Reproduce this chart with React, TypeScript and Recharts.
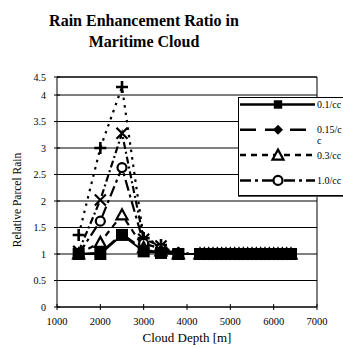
import React from "react";
import {
  LineChart,
  Line,
  XAxis,
  YAxis,
  CartesianGrid,
  ReferenceLine,
  Legend,
} from "recharts";

// cloud depth [m]; the dense tail of points forms the black band at ratio 1
const depths = [
  1500, 2000, 2500, 3000, 3400, 3800, 4300, 4400, 4500, 4600, 4700, 4800, 4900,
  5000, 5100, 5200, 5300, 5400, 5500, 5600, 5700, 5800, 5900, 6000, 6100, 6200,
  6300, 6400,
];

const ratio01 = [
  1.0, 1.0, 1.36, 1.05, 1.02, 1.0, 1, 1, 1, 1, 1, 1, 1, 1, 1, 1, 1, 1, 1, 1, 1, 1,
  1, 1, 1, 1, 1, 1,
];
const ratio015 = [
  1.0, 1.02, 1.38, 1.08, 1.03, 1.0, 1, 1, 1, 1, 1, 1, 1, 1, 1, 1, 1, 1, 1, 1, 1, 1,
  1, 1, 1, 1, 1, 1,
];
const ratio03 = [
  1.0, 1.22, 1.74, 1.12, 1.06, 1.0, 1, 1, 1, 1, 1, 1, 1, 1, 1, 1, 1, 1, 1, 1, 1, 1,
  1, 1, 1, 1, 1, 1,
];
const ratio10 = [
  1.0, 1.62, 2.63, 1.2, 1.1, 1.0, 1, 1, 1, 1, 1, 1, 1, 1, 1, 1, 1, 1, 1, 1, 1, 1,
  1, 1, 1, 1, 1, 1,
];
const ratio30 = [
  1.05, 2.02, 3.28, 1.28, 1.15, 1.0, 1, 1, 1, 1, 1, 1, 1, 1, 1, 1, 1, 1, 1, 1, 1,
  1, 1, 1, 1, 1, 1, 1,
];
const ratio100 = [
  1.36, 3.0, 4.15, 1.3, 1.17, 1.02, 1, 1, 1, 1, 1, 1, 1, 1, 1, 1, 1, 1, 1, 1, 1,
  1, 1, 1, 1, 1, 1, 1,
];

const xTicks = [1000, 2000, 3000, 4000, 5000, 6000, 7000];
// the top of the value axis sits closer to 4 than the regular 0.5 step
const yTicks = [0, 0.5, 1, 1.5, 2, 2.5, 3, 3.5, 4, 4.34];
const yTickLabels = ["0", "0.5", "1", "1.5", "2", "2.5", "3", "3.5", "4", "4.5"];

const data = depths.map((d, i) => ({
  depth: d,
  r01: ratio01[i],
  r015: ratio015[i],
  r03: ratio03[i],
  r10: ratio10[i],
  r30: ratio30[i],
  r100: ratio100[i],
}));

type Shape = "square" | "diamond" | "triangle" | "circle" | "cross" | "plus";

const series: { key: string; name: string; shape: Shape; dash?: string }[] = [
  { key: "r100", name: "10/cc", shape: "plus", dash: "2.5 5" },
  { key: "r30", name: "3.0/cc", shape: "cross", dash: "7 3 2 3" },
  { key: "r10", name: "1.0/cc", shape: "circle", dash: "11 4 3 4" },
  { key: "r03", name: "0.3/cc", shape: "triangle", dash: "6 5" },
  { key: "r015", name: "0.15/cc", shape: "diamond", dash: "16 9" },
  { key: "r01", name: "0.1/cc", shape: "square" },
];

const legendOrder = ["r01", "r015", "r03", "r10"];

const FONT = "Liberation Serif, Times New Roman, serif";

function marker(shape: Shape, cx: number, cy: number, key?: React.Key, s = 1) {
  switch (shape) {
    case "square": {
      const h = 6 * s;
      return <rect key={key} x={cx - h} y={cy - h} width={2 * h} height={2 * h} fill="#000" />;
    }
    case "diamond":
      return (
        <path key={key} d={`M${cx},${cy - 5}L${cx + 5},${cy}L${cx},${cy + 5}L${cx - 5},${cy}Z`} fill="#000" />
      );
    case "triangle":
      return (
        <path
          key={key}
          d={`M${cx},${cy - 5.5}L${cx + 5.5},${cy + 4.5}L${cx - 5.5},${cy + 4.5}Z`}
          fill="#fff"
          stroke="#000"
          strokeWidth={2.2}
        />
      );
    case "circle":
      return <circle key={key} cx={cx} cy={cy} r={4.5} fill="#fff" stroke="#000" strokeWidth={2.2} />;
    case "cross":
      return (
        <path key={key} d={`M${cx - 5.5},${cy - 5.5}L${cx + 5.5},${cy + 5.5}M${cx + 5.5},${cy - 5.5}L${cx - 5.5},${cy + 5.5}`} stroke="#000" strokeWidth={2.2} />
      );
    default:
      return (
        <path key={key} d={`M${cx - 6},${cy}L${cx + 6},${cy}M${cx},${cy - 6}L${cx},${cy + 6}`} stroke="#000" strokeWidth={2.6} />
      );
  }
}

const Y_MARGIN = 11;
const X_MARGIN = 14;

const YTick = (props: any) => {
  const { x, y, payload, index } = props;
  return (
    <g>
      <line x1={x + Y_MARGIN - 3} x2={x + Y_MARGIN + 3} y1={y} y2={y} stroke="#000" />
      <text x={x} y={y} dy={3.5} textAnchor="end" fontSize={10} fontFamily={FONT} fill="#000">
        {yTickLabels[index] ?? payload.value}
      </text>
    </g>
  );
};

const XTick = (props: any) => {
  const { x, y, payload } = props;
  return (
    <g>
      <line x1={x} x2={x} y1={y - X_MARGIN - 3} y2={y - X_MARGIN + 3} stroke="#000" />
      <text x={x} y={y} dy={4} textAnchor="middle" fontSize={10.5} fontFamily={FONT} fill="#000">
        {payload.value}
      </text>
    </g>
  );
};

const ChartLegend = () => {
  const items = legendOrder.map((k) => series.find((s) => s.key === k)!);
  return (
    <svg width={110} height={100} style={{ display: "block", background: "#fff" }}>
      <rect x={0.5} y={0.5} width={120} height={98} fill="#fff" stroke="#000" />
      <line x1={0} x2={120} y1={99.5} y2={99.5} stroke="#555" />
      {items.map((s, i) => {
        const cy = 7.5 + i * 25.3;
        const first = s.name.slice(0, 6);
        const rest = s.name.slice(6);
        return (
          <g key={s.key}>
            <line x1={2} x2={77} y1={cy} y2={cy} stroke="#000" strokeWidth={2.5} strokeDasharray={s.dash} />
            {marker(s.shape, 40, cy, undefined, 0.7)}
            <text x={79} y={cy + 3.5} fontSize={10} fontFamily={FONT} fill="#000">
              {first}
            </text>
            {rest && (
              <text x={79} y={cy + 14} fontSize={10} fontFamily={FONT} fill="#000">
                {rest}
              </text>
            )}
          </g>
        );
      })}
    </svg>
  );
};

export default function App() {
  return (
    <div
      style={{
        position: "absolute",
        left: 0,
        top: 0,
        width: 343,
        height: 347,
        overflow: "hidden",
        background: "#fff",
        fontFamily: FONT,
      }}
    >
      <div
        style={{
          position: "absolute",
          left: 0,
          top: 10,
          width: 288,
          textAlign: "center",
          fontSize: 16,
          fontWeight: "bold",
          lineHeight: "21px",
          color: "#000",
          zIndex: 2,
        }}
      >
        Rain Enhancement Ratio in
        <br />
        Maritime Cloud
      </div>
      <LineChart
        width={343}
        height={347}
        data={data}
        margin={{ top: 77, right: 26, bottom: 0, left: 0 }}
      >
        <CartesianGrid vertical={false} stroke="#000" strokeWidth={1} />
        <XAxis
          type="number"
          dataKey="depth"
          domain={[1000, 7000]}
          ticks={xTicks}
          height={40}
          stroke="#000"
          tickLine={false}
          tickSize={0}
          tickMargin={X_MARGIN}
          tick={<XTick />}
          interval={0}
          label={{
            value: "Cloud Depth [m]",
            position: "insideBottom",
            offset: 5,
            fontSize: 13,
            fill: "#000",
            fontFamily: FONT,
          }}
        />
        <YAxis
          type="number"
          domain={[0, 4.34]}
          ticks={yTicks}
          width={57}
          stroke="#000"
          tickLine={false}
          tickSize={0}
          tickMargin={Y_MARGIN}
          tick={<YTick />}
          interval={0}
          label={{
            content: () => (
              <text
                transform="translate(17,200) rotate(-90)"
                textAnchor="middle"
                dy={4}
                fontSize={11.5}
                fontFamily={FONT}
                fill="#000"
              >
                Relative Parcel Rain
              </text>
            ),
          }}
        />
        <ReferenceLine x={7000} stroke="#000" />
        <ReferenceLine y={4.34} stroke="#000" />
        {series.map((s) => (
          <Line
            key={s.key}
            dataKey={s.key}
            name={s.name}
            type="linear"
            stroke="#000"
            strokeWidth={s.shape === "square" ? 2 : 2.2}
            strokeDasharray={s.dash}
            isAnimationActive={false}
            dot={(p: any) => marker(s.shape, p.cx, p.cy, `${s.key}-${p.index}`)}
            activeDot={false}
          />
        ))}
        <Legend
          layout="vertical"
          align="center"
          verticalAlign="middle"
          content={<ChartLegend />}
          wrapperStyle={{ left: 238, top: 97, width: 110, height: 100 }}
        />
      </LineChart>
    </div>
  );
}
